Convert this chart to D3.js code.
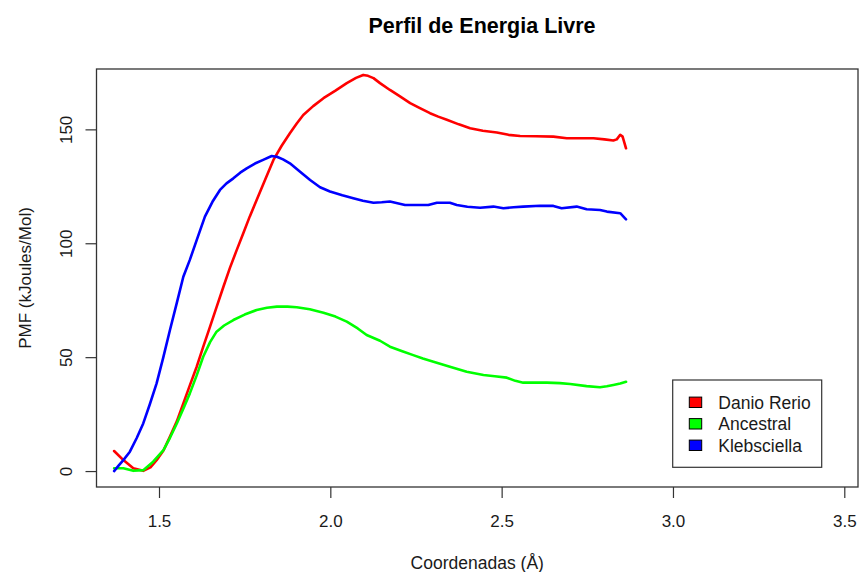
<!DOCTYPE html>
<html>
<head>
<meta charset="utf-8">
<script src="https://cdn.jsdelivr.net/npm/d3@7"></script>
<style>
  html, body { margin: 0; padding: 0; background: #fff; }
  svg { display: block; font-family: "Liberation Sans", Arial, sans-serif; }
</style>
</head>
<body>
<svg id="chart" width="859" height="572"></svg>
<script>
// Free-energy profiles (PMF vs reaction coordinate) for three enzymes
const seriesNames = ["Danio Rerio", "Ancestral", "Klebsciella"];
const seriesColors = ["#ff0000", "#00ff00", "#0000ff"];

const danioRerio = [
  [1.369, 8.8], [1.396, 4.8], [1.425, 1.2], [1.454, 0.1], [1.475, 1.6], [1.493, 4.8],
  [1.513, 9.0], [1.532, 15.1], [1.552, 21.8], [1.571, 29.7], [1.590, 37.6], [1.610, 45.8],
  [1.629, 54.5], [1.649, 63.4], [1.668, 72.0], [1.688, 80.9], [1.707, 89.2], [1.727, 97.1],
  [1.746, 104.4], [1.765, 111.8], [1.785, 119.0], [1.810, 128.0], [1.834, 136.6],
  [1.858, 142.8], [1.882, 148.3], [1.902, 152.6], [1.921, 156.3], [1.950, 160.2],
  [1.980, 163.7], [2.015, 167.0], [2.048, 170.3], [2.075, 172.6], [2.096, 173.9],
  [2.110, 173.5], [2.126, 172.5], [2.145, 170.3], [2.174, 167.3], [2.200, 164.8],
  [2.233, 161.5], [2.260, 159.4], [2.291, 157.1], [2.315, 155.6], [2.340, 154.2],
  [2.375, 152.2], [2.408, 150.5], [2.445, 149.4], [2.486, 148.6], [2.520, 147.6],
  [2.554, 147.1], [2.600, 147.0], [2.651, 146.8], [2.690, 146.1], [2.730, 146.1],
  [2.768, 146.1], [2.800, 145.6], [2.826, 145.1], [2.836, 145.6], [2.846, 147.6],
  [2.853, 146.8], [2.863, 141.7]
];

const ancestral = [
  [1.369, 1.2], [1.396, 1.2], [1.425, 0.1], [1.454, 0.4], [1.483, 4.1], [1.513, 9.2],
  [1.532, 14.6], [1.552, 20.9], [1.571, 27.4], [1.590, 34.1], [1.610, 42.0], [1.629, 50.2],
  [1.649, 56.6], [1.668, 61.2], [1.690, 63.9], [1.717, 66.3], [1.750, 68.7], [1.785, 70.7],
  [1.815, 71.7], [1.844, 72.2], [1.875, 72.2], [1.902, 71.9], [1.940, 71.0], [1.980, 69.5],
  [2.015, 67.8], [2.048, 65.6], [2.080, 62.6], [2.106, 59.7], [2.145, 57.2], [2.174, 54.6],
  [2.210, 52.6], [2.242, 50.9], [2.270, 49.4], [2.301, 48.0], [2.349, 45.8], [2.398, 43.6],
  [2.447, 42.2], [2.480, 41.6], [2.515, 41.0], [2.540, 39.6], [2.563, 38.8], [2.600, 38.8],
  [2.632, 38.8], [2.670, 38.6], [2.700, 38.2], [2.748, 37.3], [2.787, 36.8], [2.807, 37.2],
  [2.826, 37.8], [2.846, 38.4], [2.863, 39.2]
];

const klebsciella = [
  [1.369, 0.0], [1.382, 2.4], [1.396, 4.8], [1.415, 8.5], [1.435, 14.5], [1.454, 20.9],
  [1.473, 29.2], [1.493, 38.5], [1.512, 49.6], [1.532, 61.9], [1.552, 73.8], [1.571, 85.3],
  [1.590, 92.7], [1.610, 101.4], [1.634, 111.7], [1.656, 118.2], [1.678, 123.4],
  [1.697, 126.3], [1.717, 128.5], [1.737, 131.0], [1.756, 132.9], [1.780, 135.0],
  [1.804, 136.6], [1.829, 138.3], [1.844, 138.0], [1.862, 136.8], [1.882, 135.1],
  [1.910, 131.6], [1.941, 127.8], [1.970, 124.6], [1.999, 122.7], [2.035, 121.1],
  [2.067, 119.8], [2.095, 118.7], [2.126, 117.8], [2.150, 118.0], [2.174, 118.3],
  [2.218, 116.8], [2.286, 116.8], [2.311, 117.8], [2.349, 117.8], [2.369, 116.8],
  [2.400, 116.0], [2.437, 115.6], [2.476, 116.1], [2.505, 115.4], [2.535, 115.8],
  [2.563, 116.1], [2.612, 116.5], [2.651, 116.4], [2.675, 115.4], [2.719, 116.1],
  [2.748, 114.9], [2.787, 114.6], [2.807, 113.9], [2.846, 113.2], [2.863, 110.5]
];

const xTicks = [1.5, 2.0, 2.5, 3.0, 3.5];
const yTicks = [0, 50, 100, 150];

const titleText = "Perfil de Energia Livre";
const xLabel = "Coordenadas (\u00C5)";
const yLabel = "PMF (kJoules/Mol)";

const svg = d3.select("#chart");
const plot = { left: 96.5, right: 858, top: 69, bottom: 487 };

const x = d3.scaleLinear().domain([1.3176, 3.540]).range([plot.left, plot.right]);
const y = d3.scaleLinear().domain([-7.0, 176.5]).range([plot.bottom, plot.top]);

const axisColor = "#333";
const textColor = "#1a1a1a";

// x axis
const gx = svg.append("g")
  .attr("transform", `translate(0,${plot.bottom})`)
  .call(d3.axisBottom(x).tickValues(xTicks).tickSize(11).tickPadding(0).tickFormat(d3.format(".1f")));
gx.select(".domain").remove();
gx.selectAll(".tick line").attr("stroke", axisColor).attr("stroke-width", 1.2);
gx.selectAll(".tick text")
  .attr("y", 40).attr("dy", 0)
  .attr("fill", textColor)
  .style("font-size", "17px");

// y axis with rotated labels
const gy = svg.append("g")
  .attr("transform", `translate(${plot.left},0)`)
  .call(d3.axisLeft(y).tickValues(yTicks).tickSize(11).tickFormat(d3.format("d")));
gy.select(".domain").remove();
gy.selectAll(".tick line").attr("stroke", axisColor).attr("stroke-width", 1.2);
gy.selectAll(".tick text")
  .attr("transform", "rotate(-90)")
  .attr("x", 0).attr("y", -24.5).attr("dy", 0)
  .attr("text-anchor", "middle")
  .attr("fill", textColor)
  .style("font-size", "17px");

// lines
const line = d3.line().x(d => x(d[0])).y(d => y(d[1]));
const allSeries = [danioRerio, ancestral, klebsciella];
svg.append("g")
  .selectAll("path")
  .data(allSeries)
  .join("path")
  .attr("d", line)
  .attr("fill", "none")
  .attr("stroke", (d, i) => seriesColors[i])
  .attr("stroke-width", 2.6)
  .attr("stroke-linejoin", "round")
  .attr("stroke-linecap", "round");

// plot frame
svg.append("rect")
  .attr("x", plot.left).attr("y", plot.top)
  .attr("width", plot.right - plot.left).attr("height", plot.bottom - plot.top)
  .attr("fill", "none").attr("stroke", axisColor).attr("stroke-width", 1.3);

// title and axis titles
svg.append("text")
  .attr("x", 482).attr("y", 33)
  .attr("text-anchor", "middle")
  .attr("font-weight", "bold")
  .style("font-size", "21.5px")
  .attr("fill", "#000")
  .text(titleText);

svg.append("text")
  .attr("x", (plot.left + plot.right) / 2).attr("y", 569)
  .attr("text-anchor", "middle")
  .style("font-size", "17.5px")
  .attr("fill", textColor)
  .text(xLabel);

svg.append("text")
  .attr("transform", `translate(31,${(plot.top + plot.bottom) / 2}) rotate(-90)`)
  .attr("text-anchor", "middle")
  .style("font-size", "17px")
  .attr("fill", textColor)
  .text(yLabel);

// legend
const legend = svg.append("g");
legend.append("rect")
  .attr("x", 672.7).attr("y", 380)
  .attr("width", 149).attr("height", 87.3)
  .attr("fill", "#fff").attr("stroke", axisColor).attr("stroke-width", 1.2);
const rowY = [402.3, 423.8, 445.3];
const items = legend.selectAll("g.item")
  .data(seriesNames)
  .join("g").attr("class", "item");
items.append("rect")
  .attr("x", 689.3).attr("y", (d, i) => rowY[i] - 5.2)
  .attr("width", 12.4).attr("height", 10.4)
  .attr("fill", (d, i) => seriesColors[i])
  .attr("stroke", "#000").attr("stroke-width", 1);
items.append("text")
  .attr("x", 718.3).attr("y", (d, i) => rowY[i] + 6.5)
  .style("font-size", "17.5px")
  .attr("fill", textColor)
  .text(d => d);
</script>
</body>
</html>
